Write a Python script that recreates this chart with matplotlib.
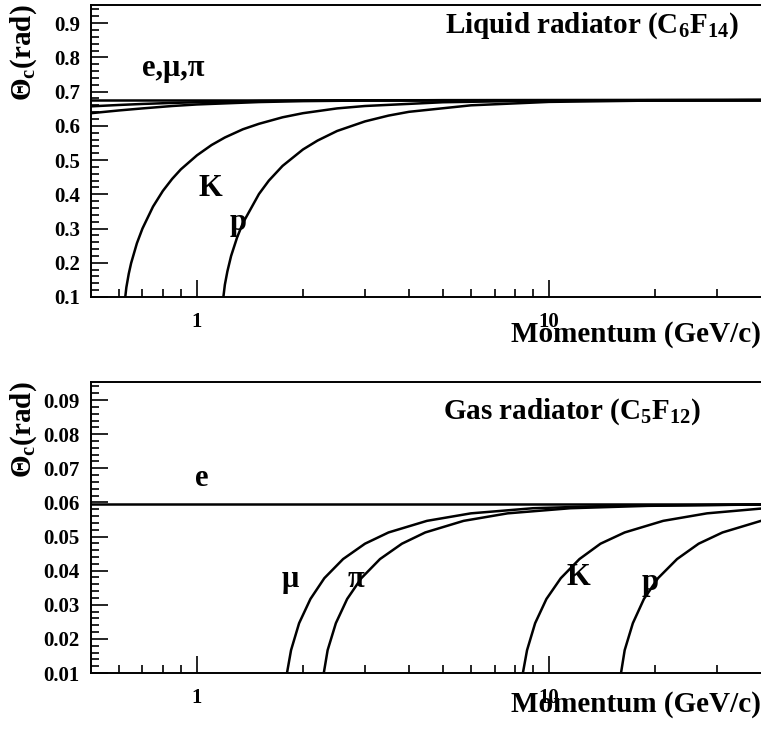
import matplotlib
matplotlib.use("Agg")
import matplotlib.pyplot as plt
from matplotlib.ticker import FixedLocator, MultipleLocator, NullFormatter, FormatStrFormatter, FuncFormatter

plt.rcParams['font.family'] = ['Liberation Serif', 'DejaVu Serif']
plt.rcParams['font.weight'] = 'bold'
plt.rcParams['axes.labelweight'] = 'bold'
plt.rcParams['mathtext.fontset'] = 'custom'
plt.rcParams['mathtext.rm'] = 'Liberation Serif:bold'
plt.rcParams['mathtext.it'] = 'Liberation Serif:bold'
plt.rcParams['mathtext.default'] = 'rm'

# liquid radiator (C6F14), theta_c in rad vs momentum in GeV/c
liq_e_p = [0.5, 40]
liq_e_th = [0.6755, 0.6755]
liq_mu_p = [0.5, 0.6, 0.7, 0.85, 1.0, 1.5, 2.0, 3.0, 40]
liq_mu_th = [0.657, 0.661, 0.664, 0.667, 0.669, 0.6725, 0.674, 0.6748, 0.6755]
liq_pi_p = [0.5, 0.6, 0.7, 0.85, 1.0, 1.5, 2.0, 3.0, 5.0, 40]
liq_pi_th = [0.637, 0.645, 0.651, 0.658, 0.6625, 0.6695, 0.6722, 0.674, 0.675, 0.6755]
liq_k_p = [0.62, 0.63, 0.64, 0.65, 0.675, 0.70, 0.75, 0.80, 0.85, 0.90, 1.0, 1.1, 1.2, 1.35, 1.5,
           1.75, 2.0, 2.5, 3.0, 5.0, 10, 20, 40]
liq_k_th = [0.065, 0.128, 0.168, 0.199, 0.257, 0.300, 0.364, 0.410, 0.445, 0.473, 0.514, 0.544,
            0.566, 0.590, 0.606, 0.625, 0.637, 0.651, 0.658, 0.669, 0.674, 0.675, 0.6755]
liq_p_p = [1.18, 1.2, 1.22, 1.25, 1.3, 1.35, 1.5, 1.6, 1.75, 2, 2.2, 2.5, 3, 3.5, 4, 6, 10, 20, 40]
liq_p_th = [0.074, 0.136, 0.175, 0.220, 0.274, 0.316, 0.401, 0.440, 0.483, 0.531, 0.557, 0.585,
            0.613, 0.630, 0.641, 0.660, 0.670, 0.674, 0.6752]

# gas radiator (C5F12)
gas_e_p = [0.5, 40]
gas_e_th = [0.0595, 0.0595]
gas_mu_p = [1.78, 1.8, 1.85, 1.95, 2.1, 2.3, 2.6, 3.0, 3.5, 4.5, 6, 9, 15, 40]
gas_mu_th = [0.0042, 0.0098, 0.0167, 0.0246, 0.0317, 0.0378, 0.0434, 0.0479, 0.0512, 0.0546,
             0.0568, 0.0583, 0.0590, 0.0594]
gas_pi_p = [2.26, 2.29, 2.35, 2.48, 2.67, 2.93, 3.31, 3.82, 4.45, 5.72, 7.63, 11.5, 19.1, 40]
gas_pi_th = [0.0042, 0.0098, 0.0167, 0.0246, 0.0317, 0.0378, 0.0434, 0.0479, 0.0512, 0.0546,
             0.0568, 0.0583, 0.0590, 0.0594]
gas_k_p = [8.33, 8.42, 8.66, 9.13, 9.83, 10.8, 12.2, 14.0, 16.4, 21.1, 28.1, 40]
gas_k_th = [0.0042, 0.0098, 0.0167, 0.0246, 0.0317, 0.0378, 0.0434, 0.0479, 0.0512, 0.0546,
            0.0568, 0.0582]
gas_p_p = [15.8, 16.0, 16.4, 17.3, 18.6, 20.4, 23.1, 26.6, 31.1, 40]
gas_p_th = [0.0042, 0.0098, 0.0167, 0.0246, 0.0317, 0.0378, 0.0434, 0.0479, 0.0512, 0.0546]

x_major = [1, 10]
x_minor = [0.6, 0.7, 0.8, 0.9, 2, 3, 4, 5, 6, 7, 8, 9, 20, 30]

fig = plt.figure(figsize=(7.61, 7.29), dpi=100)
ax1 = fig.add_axes([0.1196, 0.5926, 0.8804, 0.4005])
ax2 = fig.add_axes([0.1196, 0.0768, 0.8804, 0.3992])


def style(ax, ymin, ymax, ystep, fmt, xlab_y):
    ax.set_xscale('log')
    ax.set_xlim(0.5, 40)
    ax.set_ylim(ymin, ymax)
    ax.xaxis.set_major_locator(FixedLocator(x_major))
    ax.xaxis.set_minor_locator(FixedLocator(x_minor))
    ax.xaxis.set_major_formatter(FuncFormatter(lambda v, _: '%g' % v))
    ax.xaxis.set_minor_formatter(NullFormatter())
    ax.yaxis.set_major_locator(MultipleLocator(ystep))
    ax.yaxis.set_minor_locator(MultipleLocator(ystep / 5))
    ax.yaxis.set_major_formatter(FormatStrFormatter(fmt))
    ax.tick_params(which='both', direction='in', width=1.2, labelsize=15)
    ax.tick_params(which='major', length=12)
    ax.tick_params(which='minor', length=6)
    ax.tick_params(axis='x', pad=11)
    ax.tick_params(axis='y', pad=8)
    ax.spines['right'].set_visible(False)
    for s in ['left', 'top', 'bottom']:
        ax.spines[s].set_linewidth(1.4)
    ax.set_xlabel('Momentum (GeV/c)', fontsize=21, fontweight='bold', ha='right')
    ax.xaxis.set_label_coords(1.0, xlab_y)
    ax.set_ylabel(r'$\Theta_{c}$(rad)', fontsize=21, fontweight='bold', ha='center')
    ax.yaxis.set_label_coords(-0.078, 0.835)


lw = 1.8
ax1.plot(liq_e_p, liq_e_th, color='black', lw=lw)
ax1.plot(liq_mu_p, liq_mu_th, color='black', lw=lw)
ax1.plot(liq_pi_p, liq_pi_th, color='black', lw=lw)
ax1.plot(liq_k_p, liq_k_th, color='black', lw=lw)
ax1.plot(liq_p_p, liq_p_th, color='black', lw=lw)
style(ax1, 0.1, 0.953, 0.1, '%.1f', -0.082)
ax1.text(0.70, 0.769, 'e,μ,π', fontsize=22, va='center', ha='left')
ax1.text(1.09, 0.418, 'K', fontsize=22, va='center', ha='center')
ax1.text(1.31, 0.319, 'p', fontsize=22, va='center', ha='center')
ax1.text(5.06, 0.894, r'Liquid radiator (C$_{6}$F$_{14}$)', fontsize=21, va='center', ha='left')

ax2.plot(gas_e_p, gas_e_th, color='black', lw=lw)
ax2.plot(gas_mu_p, gas_mu_th, color='black', lw=lw)
ax2.plot(gas_pi_p, gas_pi_th, color='black', lw=lw)
ax2.plot(gas_k_p, gas_k_th, color='black', lw=lw)
ax2.plot(gas_p_p, gas_p_th, color='black', lw=lw)
style(ax2, 0.01, 0.0953, 0.01, '%.2f', -0.062)
ax2.text(1.033, 0.0671, 'e', fontsize=22, va='center', ha='center')
ax2.text(1.84, 0.0373, 'μ', fontsize=22, va='center', ha='center')
ax2.text(2.83, 0.0373, 'π', fontsize=22, va='center', ha='center')
ax2.text(12.1, 0.0381, 'K', fontsize=22, va='center', ha='center')
ax2.text(19.4, 0.0364, 'p', fontsize=22, va='center', ha='center')
ax2.text(5.0, 0.0865, r'Gas radiator (C$_{5}$F$_{12}$)', fontsize=21, va='center', ha='left')

fig.savefig('out.png', dpi=100)
